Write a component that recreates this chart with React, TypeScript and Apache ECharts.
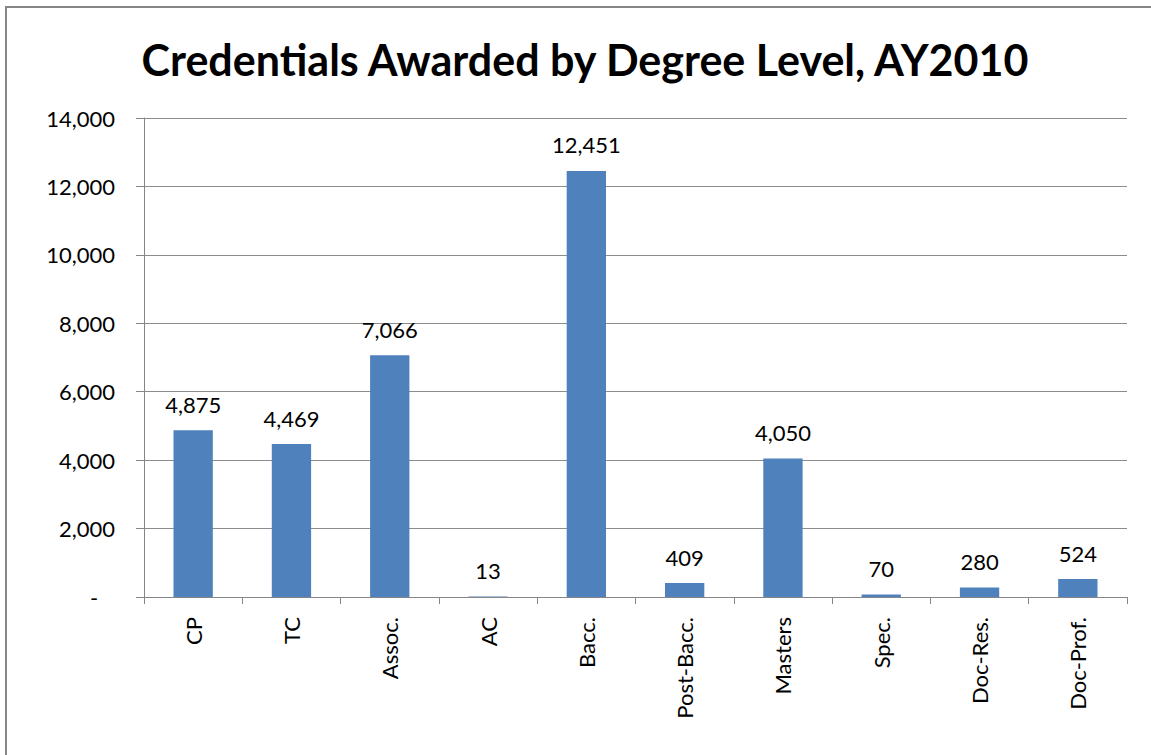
import React, { useEffect, useRef } from "react";
import * as echarts from "echarts";

const categories = ["CP", "TC", "Assoc.", "AC", "Bacc.", "Post-Bacc.", "Masters", "Spec.", "Doc-Res.", "Doc-Prof."];
const values = [4875, 4469, 7066, 13, 12451, 409, 4050, 70, 280, 524];
const titleText = "Credentials Awarded by Degree Level, AY2010";

const FONT = "Lato";

export default function App() {
  const ref = useRef<HTMLDivElement>(null);
  useEffect(() => {
    if (!ref.current) return;
    const chart = echarts.init(ref.current, undefined, { renderer: "svg" });
    chart.setOption({
      animation: false,
      backgroundColor: "#ffffff",
      title: {
        text: titleText,
        left: 580,
        top: 33,
        textAlign: "center",
        textStyle: { fontFamily: FONT, fontWeight: "bold", fontSize: 43, color: "#000000" },
      },
      graphic: [
        {
          type: "rect",
          shape: { x: 6, y: 7, width: 1170, height: 800 },
          style: { fill: "none", stroke: "#868686", lineWidth: 2 },
          silent: true,
        },
      ],
      grid: { left: 144, right: 24, top: 118, bottom: 158, containLabel: false },
      xAxis: {
        type: "category",
        data: categories,
        axisLine: { show: true, lineStyle: { color: "#868686", width: 1 } },
        axisTick: { show: true, length: 7, alignWithLabel: false, lineStyle: { color: "#868686" } },
        axisLabel: { rotate: 90, margin: 20, fontFamily: FONT, fontSize: 22, color: "#000000", interval: 0 },
      },
      yAxis: {
        type: "value",
        min: 0,
        max: 14000,
        interval: 2000,
        axisLine: { show: true, lineStyle: { color: "#868686", width: 1 } },
        axisTick: { show: true, length: 8, lineStyle: { color: "#868686" } },
        splitLine: { show: true, lineStyle: { color: "#8c8c8c", width: 1 } },
        axisLabel: {
          margin: 29,
          fontFamily: FONT,
          fontSize: 22,
          color: "#000000",
          formatter: (v: number) => (v === 0 ? "-   " : v.toLocaleString("en-US")),
        },
      },
      series: [
        {
          type: "bar",
          data: values,
          barWidth: "40%",
          itemStyle: { color: "#4F81BD" },
          label: {
            show: true,
            position: "top",
            distance: 15,
            fontFamily: FONT,
            fontSize: 22,
            color: "#000000",
            formatter: (p: any) => Number(p.value).toLocaleString("en-US"),
          },
        },
      ],
    });
    return () => chart.dispose();
  }, []);
  return (
    <div style={{ position: "fixed", left: 0, top: 0, width: 1151, height: 755, background: "#fff" }}>
      <div ref={ref} style={{ width: 1151, height: 755 }} />
    </div>
  );
}
